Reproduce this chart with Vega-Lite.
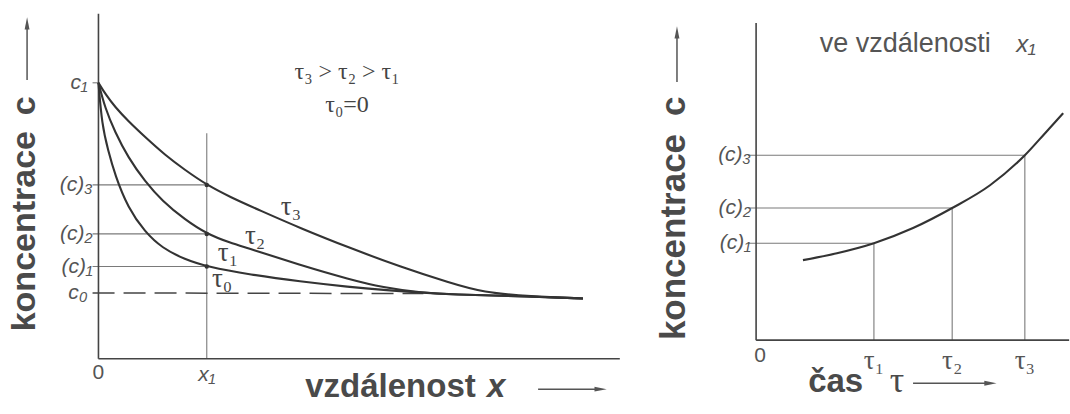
{
  "$schema": "https://vega.github.io/schema/vega-lite/v6.json",
  "padding": 0,
  "spacing": 0,
  "background": "white",
  "config": {"view": {"stroke": null}, "font": "Liberation Sans"},
  "datasets": {
    "L_axes": [
      {"x": 0, "y": 0, "x2": 0, "y2": 10.0},
      {"x": 0, "y": 0, "x2": 10.59, "y2": 0}
    ],
    "L_guides": [
      {"x": -0.12, "y": 8.0, "x2": 0, "y2": 8.0},
      {"x": -0.12, "y": 5.04, "x2": 2.2, "y2": 5.04},
      {"x": -0.12, "y": 3.62, "x2": 2.2, "y2": 3.62},
      {"x": -0.12, "y": 2.675, "x2": 2.2, "y2": 2.675},
      {"x": 2.2, "y": 0, "x2": 2.2, "y2": 6.54}
    ],
    "L_c0": [
      {"x": -0.12, "y": 1.91, "x2": 6.6, "y2": 1.89}
    ],
    "L_curves": [
      {"tau": "t3", "x": 0, "y": 8.0},
      {"tau": "t3", "x": 0.153, "y": 7.646},
      {"tau": "t3", "x": 0.336, "y": 7.3},
      {"tau": "t3", "x": 0.6, "y": 6.893},
      {"tau": "t3", "x": 0.945, "y": 6.429},
      {"tau": "t3", "x": 1.351, "y": 5.907},
      {"tau": "t3", "x": 1.758, "y": 5.472},
      {"tau": "t3", "x": 2.2, "y": 5.04},
      {"tau": "t3", "x": 2.672, "y": 4.69},
      {"tau": "t3", "x": 3.281, "y": 4.3},
      {"tau": "t3", "x": 4.094, "y": 3.79},
      {"tau": "t3", "x": 5.109, "y": 3.21},
      {"tau": "t3", "x": 6.125, "y": 2.67},
      {"tau": "t3", "x": 7.141, "y": 2.2},
      {"tau": "t3", "x": 7.811, "y": 1.922},
      {"tau": "t3", "x": 8.766, "y": 1.806},
      {"tau": "t3", "x": 9.842, "y": 1.748},
      {"tau": "t2", "x": 0, "y": 8.0},
      {"tau": "t2", "x": 0.133, "y": 7.27},
      {"tau": "t2", "x": 0.336, "y": 6.574},
      {"tau": "t2", "x": 0.6, "y": 5.84},
      {"tau": "t2", "x": 0.945, "y": 5.14},
      {"tau": "t2", "x": 1.291, "y": 4.58},
      {"tau": "t2", "x": 1.758, "y": 4.03},
      {"tau": "t2", "x": 2.2, "y": 3.62},
      {"tau": "t2", "x": 2.672, "y": 3.36},
      {"tau": "t2", "x": 3.078, "y": 3.19},
      {"tau": "t2", "x": 4.094, "y": 2.719},
      {"tau": "t2", "x": 5.109, "y": 2.299},
      {"tau": "t2", "x": 5.78, "y": 2.067},
      {"tau": "t2", "x": 6.531, "y": 1.922},
      {"tau": "t2", "x": 7.141, "y": 1.864},
      {"tau": "t2", "x": 8.766, "y": 1.806},
      {"tau": "t2", "x": 9.842, "y": 1.748},
      {"tau": "t1", "x": 0, "y": 8.0},
      {"tau": "t1", "x": 0.072, "y": 6.777},
      {"tau": "t1", "x": 0.194, "y": 6.052},
      {"tau": "t1", "x": 0.336, "y": 5.328},
      {"tau": "t1", "x": 0.6, "y": 4.371},
      {"tau": "t1", "x": 0.945, "y": 3.675},
      {"tau": "t1", "x": 1.291, "y": 3.212},
      {"tau": "t1", "x": 1.758, "y": 2.878},
      {"tau": "t1", "x": 2.2, "y": 2.675},
      {"tau": "t1", "x": 3.078, "y": 2.44},
      {"tau": "t1", "x": 4.094, "y": 2.241},
      {"tau": "t1", "x": 5.109, "y": 2.081},
      {"tau": "t1", "x": 5.78, "y": 1.994},
      {"tau": "t1", "x": 6.531, "y": 1.922},
      {"tau": "t1", "x": 7.141, "y": 1.864},
      {"tau": "t1", "x": 8.766, "y": 1.806},
      {"tau": "t1", "x": 9.842, "y": 1.748}
    ],
    "L_dots": [
      {"x": 2.2, "y": 5.04},
      {"x": 2.2, "y": 3.62},
      {"x": 2.2, "y": 2.675}
    ],
    "L_ylabels": [
      {"label": "c₁", "x": -0.22, "y": 8.0},
      {"label": "(c)₃", "x": -0.12, "y": 5.04},
      {"label": "(c)₂", "x": -0.12, "y": 3.62},
      {"label": "(c)₁", "x": -0.12, "y": 2.675},
      {"label": "c₀", "x": -0.22, "y": 1.91}
    ],
    "L_xlabels_ital": [
      {"label": "x₁", "x": 2.2, "y": -0.47}
    ],
    "L_xlabels": [
      {"label": "0", "x": 0, "y": -0.41}
    ],
    "L_tau": [
      {"label": "τ₃", "x": 3.91, "y": 4.4},
      {"label": "τ₂", "x": 3.18, "y": 3.56},
      {"label": "τ₁", "x": 2.63, "y": 3.07},
      {"label": "τ₀", "x": 2.51, "y": 2.3}
    ],
    "L_rel": [
      {"label": "τ₃ > τ₂ > τ₁", "x": 5.05, "y": 8.32},
      {"label": "τ₀=0", "x": 5.05, "y": 7.37}
    ],
    "L_xtitle": [
      {"label": "vzdálenost", "x": 4.2, "y": -1.11}
    ],
    "L_xtitle_ital": [
      {"label": "x", "x": 7.89, "y": -1.11}
    ],
    "L_ytitle": [
      {"label": "koncentrace", "x": -1.29, "y": 3.7},
      {"label": "c", "x": -1.29, "y": 7.33}
    ],
    "L_arrows": [
      {"x": 8.93, "y": -0.88, "x2": 10.15, "y2": -0.88},
      {"x": -1.45, "y": 8.08, "x2": -1.45, "y2": 9.65}
    ],
    "L_head_right": [
      {"x": 10.2, "y": -0.88}
    ],
    "L_head_up": [
      {"x": -1.45, "y": 9.72}
    ],
    "R_axes": [
      {"x": 0, "y": 0, "x2": 0, "y2": 9.19},
      {"x": 0, "y": 0, "x2": 7.28, "y2": 0}
    ],
    "R_guides": [
      {"x": -0.19, "y": 5.36, "x2": 6.25, "y2": 5.36},
      {"x": -0.19, "y": 3.83, "x2": 4.56, "y2": 3.83},
      {"x": -0.19, "y": 2.81, "x2": 2.74, "y2": 2.81},
      {"x": 6.25, "y": 0, "x2": 6.25, "y2": 5.36},
      {"x": 4.56, "y": 0, "x2": 4.56, "y2": 3.83},
      {"x": 2.74, "y": 0, "x2": 2.74, "y2": 2.81}
    ],
    "R_curve": [
      {"x": 1.09, "y": 2.32},
      {"x": 1.88, "y": 2.52},
      {"x": 2.74, "y": 2.81},
      {"x": 3.65, "y": 3.25},
      {"x": 4.56, "y": 3.83},
      {"x": 5.44, "y": 4.49},
      {"x": 6.25, "y": 5.36},
      {"x": 6.72, "y": 6.0},
      {"x": 7.14, "y": 6.58}
    ],
    "R_ylabels": [
      {"label": "(c)₃", "x": -0.12, "y": 5.36},
      {"label": "(c)₂", "x": -0.12, "y": 3.83},
      {"label": "(c)₁", "x": -0.12, "y": 2.81}
    ],
    "R_xlabels": [
      {"label": "0", "x": 0.09, "y": -0.45}
    ],
    "R_tau": [
      {"label": "τ₁", "x": 2.74, "y": -0.6},
      {"label": "τ₂", "x": 4.56, "y": -0.6},
      {"label": "τ₃", "x": 6.25, "y": -0.6}
    ],
    "R_xtitle": [
      {"label": "čas", "x": 1.21, "y": -1.51}
    ],
    "R_xtitle_tau": [
      {"label": "τ", "x": 3.11, "y": -1.51}
    ],
    "R_ytitle": [
      {"label": "koncentrace", "x": -1.65, "y": 2.99},
      {"label": "c", "x": -1.65, "y": 6.78}
    ],
    "R_note": [
      {"label": "ve vzdálenosti", "x": 1.48, "y": 8.35}
    ],
    "R_note_ital": [
      {"label": "x₁", "x": 6.05, "y": 8.35}
    ],
    "R_arrows": [
      {"x": 3.65, "y": -1.25, "x2": 5.4, "y2": -1.25},
      {"x": -1.84, "y": 7.48, "x2": -1.84, "y2": 8.85}
    ],
    "R_head_right": [
      {"x": 5.45, "y": -1.25}
    ],
    "R_head_up": [
      {"x": -1.84, "y": 8.92}
    ]
  },
  "hconcat": [
    {
      "width": 640,
      "height": 414,
      "encoding": {
        "x": {"field": "x", "type": "quantitative", "scale": {"domain": [-2, 11], "nice": false, "zero": false}, "axis": null},
        "y": {"field": "y", "type": "quantitative", "scale": {"domain": [-1.6, 10.4], "nice": false, "zero": false}, "axis": null}
      },
      "layer": [
        {"data": {"name": "L_guides"}, "mark": {"type": "rule", "color": "#7a7a7a", "strokeWidth": 1.1}, "encoding": {"x2": {"field": "x2"}, "y2": {"field": "y2"}}},
        {"data": {"name": "L_c0"}, "mark": {"type": "rule", "color": "#444", "strokeWidth": 1.5, "strokeDash": [22, 9]}, "encoding": {"x2": {"field": "x2"}, "y2": {"field": "y2"}}},
        {"data": {"name": "L_axes"}, "mark": {"type": "rule", "color": "#444", "strokeWidth": 1.6}, "encoding": {"x2": {"field": "x2"}, "y2": {"field": "y2"}}},
        {"data": {"name": "L_curves"}, "mark": {"type": "line", "color": "#333", "strokeWidth": 2.1, "interpolate": "basis"}, "encoding": {"detail": {"field": "tau"}}},
        {"data": {"name": "L_dots"}, "mark": {"type": "circle", "color": "#333", "size": 20, "opacity": 1}, "encoding": {}},
        {"data": {"name": "L_ylabels"}, "mark": {"type": "text", "fontStyle": "italic", "fontSize": 21, "align": "right", "baseline": "middle", "color": "#555"}, "encoding": {"text": {"field": "label"}}},
        {"data": {"name": "L_xlabels"}, "mark": {"type": "text", "fontSize": 21, "align": "center", "baseline": "middle", "color": "#555"}, "encoding": {"text": {"field": "label"}}},
        {"data": {"name": "L_xlabels_ital"}, "mark": {"type": "text", "fontStyle": "italic", "fontSize": 21, "align": "center", "baseline": "middle", "color": "#555"}, "encoding": {"text": {"field": "label"}}},
        {"data": {"name": "L_tau"}, "mark": {"type": "text", "font": "Liberation Serif", "fontSize": 27, "align": "center", "baseline": "middle", "color": "#444"}, "encoding": {"text": {"field": "label"}}},
        {"data": {"name": "L_rel"}, "mark": {"type": "text", "font": "Liberation Serif", "fontSize": 24, "align": "center", "baseline": "middle", "color": "#444"}, "encoding": {"text": {"field": "label"}}},
        {"data": {"name": "L_xtitle"}, "mark": {"type": "text", "fontSize": 33, "fontWeight": "bold", "align": "left", "baseline": "alphabetic", "color": "#4a4a4a"}, "encoding": {"text": {"field": "label"}}},
        {"data": {"name": "L_xtitle_ital"}, "mark": {"type": "text", "fontSize": 33, "fontWeight": "bold", "fontStyle": "italic", "align": "left", "baseline": "alphabetic", "color": "#4a4a4a"}, "encoding": {"text": {"field": "label"}}},
        {"data": {"name": "L_ytitle"}, "mark": {"type": "text", "fontSize": 34, "fontWeight": "bold", "angle": 270, "align": "center", "baseline": "alphabetic", "color": "#4a4a4a"}, "encoding": {"text": {"field": "label"}}},
        {"data": {"name": "L_arrows"}, "mark": {"type": "rule", "color": "#555", "strokeWidth": 1.5}, "encoding": {"x2": {"field": "x2"}, "y2": {"field": "y2"}}},
        {"data": {"name": "L_head_right"}, "mark": {"type": "point", "shape": "M1,0L-1,-0.4L-1,0.4Z", "filled": true, "size": 150, "color": "#555", "opacity": 1}, "encoding": {}},
        {"data": {"name": "L_head_up"}, "mark": {"type": "point", "shape": "M0,-1L-0.4,1L0.4,1Z", "filled": true, "size": 150, "color": "#555", "opacity": 1}, "encoding": {}}
      ]
    },
    {
      "width": 430,
      "height": 414,
      "encoding": {
        "x": {"field": "x", "type": "quantitative", "scale": {"domain": [-2.7, 7.3], "nice": false, "zero": false}, "axis": null},
        "y": {"field": "y", "type": "quantitative", "scale": {"domain": [-2.14, 9.86], "nice": false, "zero": false}, "axis": null}
      },
      "layer": [
        {"data": {"name": "R_guides"}, "mark": {"type": "rule", "color": "#7a7a7a", "strokeWidth": 1.1}, "encoding": {"x2": {"field": "x2"}, "y2": {"field": "y2"}}},
        {"data": {"name": "R_axes"}, "mark": {"type": "rule", "color": "#444", "strokeWidth": 1.6}, "encoding": {"x2": {"field": "x2"}, "y2": {"field": "y2"}}},
        {"data": {"name": "R_curve"}, "mark": {"type": "line", "color": "#333", "strokeWidth": 2.1, "interpolate": "monotone"}, "encoding": {}},
        {"data": {"name": "R_ylabels"}, "mark": {"type": "text", "fontStyle": "italic", "fontSize": 21, "align": "right", "baseline": "middle", "color": "#555"}, "encoding": {"text": {"field": "label"}}},
        {"data": {"name": "R_xlabels"}, "mark": {"type": "text", "fontSize": 21, "align": "center", "baseline": "middle", "color": "#555"}, "encoding": {"text": {"field": "label"}}},
        {"data": {"name": "R_tau"}, "mark": {"type": "text", "font": "Liberation Serif", "fontSize": 27, "align": "center", "baseline": "middle", "color": "#555"}, "encoding": {"text": {"field": "label"}}},
        {"data": {"name": "R_xtitle"}, "mark": {"type": "text", "fontSize": 33, "fontWeight": "bold", "align": "left", "baseline": "alphabetic", "color": "#4a4a4a"}, "encoding": {"text": {"field": "label"}}},
        {"data": {"name": "R_xtitle_tau"}, "mark": {"type": "text", "font": "Liberation Serif", "fontSize": 36, "align": "left", "baseline": "alphabetic", "color": "#4a4a4a"}, "encoding": {"text": {"field": "label"}}},
        {"data": {"name": "R_ytitle"}, "mark": {"type": "text", "fontSize": 35, "fontWeight": "bold", "angle": 270, "align": "center", "baseline": "alphabetic", "color": "#4a4a4a"}, "encoding": {"text": {"field": "label"}}},
        {"data": {"name": "R_note"}, "mark": {"type": "text", "fontSize": 27, "align": "left", "baseline": "alphabetic", "color": "#555"}, "encoding": {"text": {"field": "label"}}},
        {"data": {"name": "R_note_ital"}, "mark": {"type": "text", "fontSize": 24, "fontStyle": "italic", "align": "left", "baseline": "alphabetic", "color": "#555"}, "encoding": {"text": {"field": "label"}}},
        {"data": {"name": "R_arrows"}, "mark": {"type": "rule", "color": "#555", "strokeWidth": 1.5}, "encoding": {"x2": {"field": "x2"}, "y2": {"field": "y2"}}},
        {"data": {"name": "R_head_right"}, "mark": {"type": "point", "shape": "M1,0L-1,-0.4L-1,0.4Z", "filled": true, "size": 150, "color": "#555", "opacity": 1}, "encoding": {}},
        {"data": {"name": "R_head_up"}, "mark": {"type": "point", "shape": "M0,-1L-0.4,1L0.4,1Z", "filled": true, "size": 150, "color": "#555", "opacity": 1}, "encoding": {}}
      ]
    }
  ]
}
